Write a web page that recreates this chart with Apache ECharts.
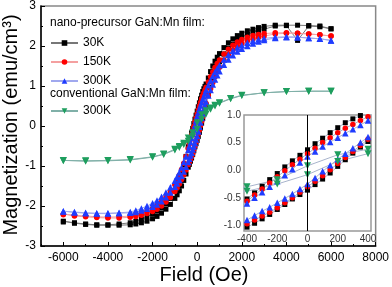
<!DOCTYPE html>
<html><head><meta charset="utf-8">
<script src="https://cdn.jsdelivr.net/npm/echarts@6/dist/echarts.min.js"></script>
<style>html,body{margin:0;padding:0;background:#fff}#c{width:392px;height:287px}</style>
</head><body><div id="c"></div>
<script>
// Field grid (Oe) for nano-precursor loops
const fieldOe = [
  -6000,-5500,-5000,-4500,-4000,-3500,-3000,
  -2750,-2500,-2250,-2000,-1800,-1600,-1400,-1200,
  -1000,-900,-800,-700,-600,-500,
  -400,-350,-300,-250,-200,-150,-100,-50,0,50,100,150,200,250,300,350,400,
  500,600,700,800,900,1000,
  1200,1400,1600,1800,2000,2250,2500,2750,3000,
  3500,4000,4500,5000,5500,6000];
// 30K: descending branch (from +6000) and ascending branch (from -6000)
const m30KDown = [
  -2.38,-2.42,-2.45,-2.47,-2.47,-2.45,-2.42,
  -2.38,-2.33,-2.27,-2.2,-2.13,-2.05,-1.95,-1.81,
  -1.62,-1.49,-1.34,-1.17,-0.97,-0.76,
  -0.52,-0.41,-0.29,-0.17,-0.06,0.06,0.17,0.27,0.37,0.48,0.58,0.68,0.77,0.86,0.93,0.99,1.05,
  1.2,1.36,1.5,1.62,1.72,1.81,
  1.96,2.08,2.18,2.26,2.32,2.38,2.42,2.46,2.49,
  2.52,2.52,2.52,2.51,2.5,2.43];
const m30KUp = [
  -2.4,-2.43,-2.46,-2.48,-2.48,-2.48,-2.47,
  -2.45,-2.42,-2.38,-2.32,-2.26,-2.18,-2.08,-1.96,
  -1.81,-1.72,-1.62,-1.5,-1.36,-1.2,
  -1.03,-0.96,-0.88,-0.8,-0.71,-0.62,-0.52,-0.44,-0.36,-0.26,-0.16,-0.05,0.07,0.19,0.31,0.42,0.52,
  0.76,0.97,1.16,1.33,1.48,1.61,
  1.8,1.95,2.05,2.14,2.22,2.29,2.35,2.39,2.42,
  2.5,2.51,2.14,2.5,2.48,2.43];
// 150K
const m150KDown = [
  -2.2,-2.23,-2.25,-2.27,-2.28,-2.27,-2.25,
  -2.22,-2.18,-2.13,-2.06,-1.99,-1.9,-1.79,-1.65,
  -1.47,-1.36,-1.23,-1.09,-0.93,-0.76,
  -0.56,-0.45,-0.34,-0.23,-0.12,-0.01,0.1,0.2,0.3,0.4,0.5,0.59,0.68,0.76,0.83,0.9,0.97,
  1.1,1.23,1.35,1.46,1.56,1.65,
  1.8,1.92,2.02,2.1,2.16,2.22,2.26,2.29,2.31,
  2.33,2.33,2.32,2.3,2.28,2.25];
const m150KUp = [
  -2.22,-2.25,-2.27,-2.29,-2.3,-2.3,-2.28,
  -2.26,-2.23,-2.19,-2.14,-2.08,-2.0,-1.9,-1.79,
  -1.64,-1.55,-1.45,-1.34,-1.22,-1.1,
  -0.97,-0.9,-0.83,-0.76,-0.68,-0.59,-0.5,-0.4,-0.3,-0.2,-0.1,0.01,0.12,0.23,0.34,0.45,0.56,
  0.76,0.93,1.09,1.23,1.36,1.47,
  1.65,1.79,1.9,1.99,2.06,2.13,2.18,2.22,2.25,
  2.3,2.32,2.32,2.3,2.28,2.25];
// 300K
const m300KDown = [
  -2.13,-2.15,-2.17,-2.18,-2.18,-2.17,-2.15,
  -2.11,-2.06,-2.0,-1.93,-1.86,-1.77,-1.66,-1.53,
  -1.37,-1.27,-1.16,-1.04,-0.9,-0.76,
  -0.6,-0.5,-0.4,-0.3,-0.2,-0.09,0.02,0.14,0.25,0.34,0.43,0.51,0.59,0.67,0.74,0.82,0.9,
  1.02,1.14,1.25,1.35,1.44,1.52,
  1.66,1.78,1.88,1.96,2.02,2.08,2.13,2.17,2.19,
  2.22,2.23,2.22,2.2,2.18,2.14];
const m300KUp = [
  -2.14,-2.16,-2.18,-2.19,-2.19,-2.18,-2.17,
  -2.15,-2.11,-2.07,-2.02,-1.96,-1.88,-1.78,-1.66,
  -1.52,-1.44,-1.35,-1.25,-1.14,-1.02,
  -0.9,-0.82,-0.74,-0.67,-0.59,-0.51,-0.43,-0.34,-0.25,-0.14,-0.02,0.09,0.2,0.3,0.4,0.5,0.6,
  0.76,0.9,1.04,1.16,1.27,1.37,
  1.53,1.66,1.77,1.86,1.93,2.0,2.06,2.11,2.15,
  2.2,2.22,2.22,2.2,2.18,2.14];
// conventional GaN:Mn film, 300K
const fieldConvOe = [-6000,-5000,-4000,-3000,-2000,-1500,-1000,-800,-600,-400,-200,0,200,400,600,800,1000,1500,2000,3000,4000,5000,6000];
const mConvDown = [-0.86,-0.87,-0.86,-0.84,-0.77,-0.7,-0.58,-0.51,-0.43,-0.3,-0.17,0.08,0.28,0.38,0.45,0.52,0.58,0.69,0.77,0.83,0.86,0.87,0.87];
const mConvUp = [-0.87,-0.88,-0.87,-0.85,-0.78,-0.71,-0.6,-0.54,-0.46,-0.38,-0.25,-0.08,0.16,0.3,0.42,0.5,0.57,0.68,0.76,0.83,0.86,0.87,0.87];

const mainXTicks = [-6000,-4000,-2000,0,2000,4000,6000,8000];
const mainXMinor = [-7000,-5000,-3000,-1000,1000,3000,5000,7000];
const insetXTicks = [-400,-200,0,200,400];
const insetYTicks = [-1,-0.5,0,0.5,1];

function loop(h, down, up) {
  const d = [];
  for (let i = h.length - 1; i >= 0; i--) d.push([h[i], down[i]]);
  for (let i = 0; i < h.length; i++) d.push([h[i], up[i]]);
  return d;
}
const FONT = 'Liberation Sans, Arial, sans-serif';
const downTri = 'path://M0,0L10,0L5,9Z';
const defs = [
  {name:'30K', data:loop(fieldOe,m30KDown,m30KUp), color:'#000000', line:'#777777', symbol:'rect', size:5},
  {name:'150K', data:loop(fieldOe,m150KDown,m150KUp), color:'#ff0000', line:'#f4a0a0', symbol:'circle', size:5.5},
  {name:'300K', data:loop(fieldOe,m300KDown,m300KUp), color:'#1f3cff', line:'#a0a8ee', symbol:'triangle', size:6.5},
  {name:'300K ', data:loop(fieldConvOe,mConvDown,mConvUp), color:'#1e9e5e', line:'#80b0a8', symbol:downTri, size:7}
];
const series = [];
defs.forEach(d => series.push({
  name:d.name, type:'line', xAxisIndex:0, yAxisIndex:0, data:d.data,
  symbol:d.symbol, symbolSize:d.size, showSymbol:true, animation:false,
  itemStyle:{color:d.color}, lineStyle:{color:d.line, width:1}
}));
defs.forEach((d, i) => {
  const s = {
    name:'inset'+i, type:'line', xAxisIndex:1, yAxisIndex:1, data:d.data,
    symbol:d.symbol, symbolSize:d.size, showSymbol:true, animation:false, clip:true,
    itemStyle:{color:d.color}, lineStyle:{color:'#a8b4cc', width:1}
  };
  if (i === 0) s.markLine = {silent:true, symbol:'none', animation:false, label:{show:false},
    lineStyle:{color:'#000', width:1, type:'solid'}, data:[{xAxis:0}]};
  series.push(s);
});

const chart = echarts.init(document.getElementById('c'), null, {renderer:'canvas'});
chart.setOption({
  backgroundColor:'#fff',
  animation:false,
  textStyle:{fontFamily:FONT},
  grid:[
    {left:41, top:6, right:15, bottom:41, show:true, borderColor:'#888', borderWidth:1.5, backgroundColor:'transparent'},
    {left:244, top:115, width:127, height:116, show:true, borderColor:'#999', borderWidth:1.5, backgroundColor:'#fff'}
  ],
  xAxis:[
    {type:'value', gridIndex:0, min:-7000, max:8000, interval:1000, position:'bottom',
     axisLine:{show:true, onZero:false, lineStyle:{color:'#000', width:1.5}},
     axisTick:{show:true, inside:true, length:4, customValues:mainXTicks, lineStyle:{color:'#000'}},
     axisLabel:{customValues:mainXTicks, color:'#000', fontSize:12, margin:6, fontFamily:FONT, formatter:v => String(v)},
     splitLine:{show:false}},
    {type:'value', gridIndex:1, min:-420, max:420, position:'bottom',
     axisLine:{show:false, onZero:false}, axisTick:{show:false},
     axisLabel:{customValues:insetXTicks, color:'#333', fontSize:10, margin:3, fontFamily:FONT, formatter:v => String(v)},
     splitLine:{show:false}},
    {type:'value', gridIndex:0, min:-7000, max:8000, interval:1000, position:'bottom',
     axisLine:{show:false, onZero:false}, axisLabel:{show:false}, splitLine:{show:false},
     axisTick:{show:true, inside:true, length:2, customValues:mainXMinor, lineStyle:{color:'#000'}}}
  ],
  yAxis:[
    {type:'value', gridIndex:0, min:-3, max:3, interval:1, position:'left',
     axisLine:{show:true, onZero:false, lineStyle:{color:'#000', width:1.5}},
     axisTick:{show:true, inside:true, length:4, lineStyle:{color:'#000'}},
     minorTick:{show:true, splitNumber:2, length:2, lineStyle:{color:'#000'}},
     axisLabel:{color:'#000', fontSize:12, margin:5, fontFamily:FONT},
     splitLine:{show:false}},
    {type:'value', gridIndex:1, min:-1.1, max:1.0, position:'left',
     axisLine:{show:false, onZero:false}, axisTick:{show:false},
     axisLabel:{customValues:insetYTicks, color:'#333', fontSize:10, margin:3, fontFamily:FONT,
       formatter:v => v.toFixed(1)},
     splitLine:{show:false}}
  ],
  legend:[
    {data:['30K','150K','300K'], left:50, top:37, orient:'vertical', itemWidth:27, itemHeight:7, itemGap:7,
     padding:0, textStyle:{fontSize:12, color:'#000', fontFamily:FONT}, selectedMode:false},
    {data:['300K '], left:50, top:105, orient:'vertical', itemWidth:27, itemHeight:7, itemGap:7,
     padding:0, textStyle:{fontSize:12, color:'#000', fontFamily:FONT}, selectedMode:false}
  ],
  graphic:[
    {type:'text', left:50, top:17, style:{text:'nano-precursor GaN:Mn film:', font:'12px '+FONT, fill:'#000'}},
    {type:'text', left:50, top:88, style:{text:'conventional GaN:Mn film:', font:'12px '+FONT, fill:'#000'}},
    {type:'text', x:204, y:275, style:{text:'Field (Oe)', font:'20px '+FONT, fill:'#000', align:'center', verticalAlign:'middle'}},
    {type:'text', x:11, y:125, rotation:Math.PI/2, style:{text:'Magnetization (emu/cm³)', font:'20px '+FONT, fill:'#000', align:'center', verticalAlign:'middle'}}
  ],
  series:series
});
</script>
</body></html>
